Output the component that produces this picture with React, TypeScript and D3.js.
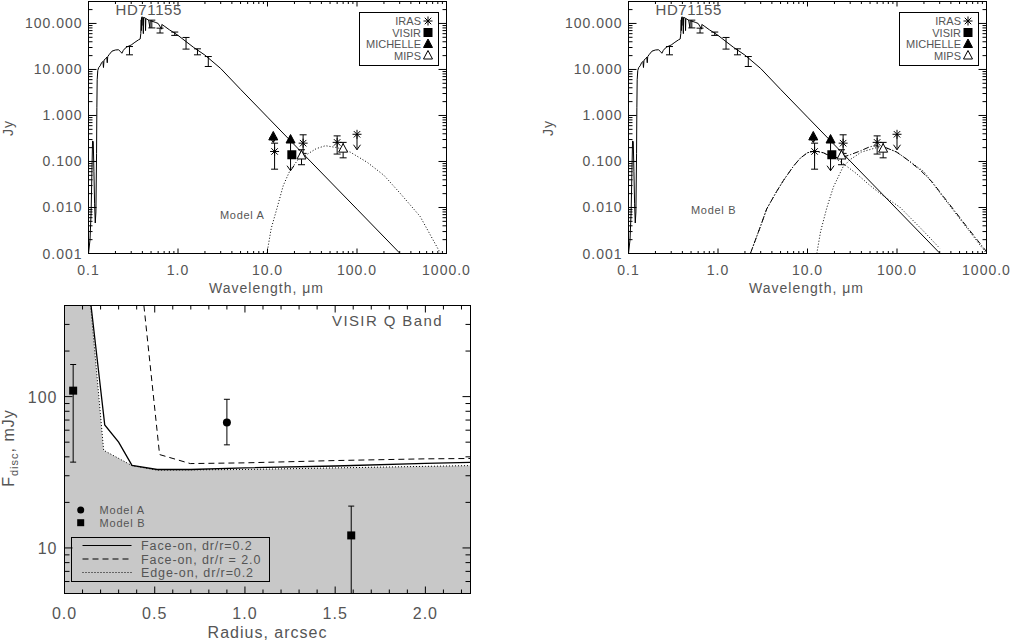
import React from "react";
import * as d3 from "d3";

// ---------- SED: stellar photosphere (wavelength in micron, flux in Jy) ----------
const photoWave = [
  0.1, 0.104, 0.107, 0.109, 0.111, 0.113, 0.115, 0.117, 0.119, 0.121, 0.123, 0.124, 0.125,
  0.127, 0.13, 0.135, 0.14, 0.145, 0.147, 0.149, 0.155, 0.16, 0.162, 0.164, 0.17, 0.183, 0.2,
  0.216, 0.228, 0.236, 0.245, 0.257, 0.27, 0.3, 0.33, 0.362, 0.378, 0.384, 0.388, 0.39, 0.392,
  0.395, 0.398, 0.405, 0.41, 0.412, 0.43, 0.434, 0.437, 0.47, 0.486, 0.49, 0.556, 0.6, 0.656,
  0.66, 0.7, 0.8, 0.9, 1.0, 1.5, 2.0, 3.0, 5.0, 10, 30, 100, 300, 1000,
];
const photoFlux = [
  0.001, 0.002, 0.008, 0.05, 0.28, 0.27, 0.06, 0.012, 0.0046, 0.008, 0.15, 1.5, 6,
  9.5, 11, 12, 14, 15, 11, 16, 17, 18.5, 14, 19, 21, 25, 26.5,
  26.8, 24.5, 22.5, 26, 29, 31, 34, 39, 44, 46, 60, 120, 70, 135,
  90, 140, 135, 60, 135, 132, 70, 128, 118, 80, 115, 106, 100, 75,
  95, 88, 73, 63, 55, 30, 20.5, 10.5, 3.7, 0.92, 0.102, 0.0092, 0.00102, 0.000092,
];

// Model A: single cold dust belt
const modelAWave = [9.85, 11, 12.7, 15, 17.9, 22, 27.5, 35, 44.4, 60, 84, 130, 200, 304, 507, 815, 1000];
const modelAFlux = [0.001, 0.0035, 0.0093, 0.03, 0.065, 0.11, 0.142, 0.19, 0.22, 0.2, 0.16, 0.096, 0.05, 0.0203, 0.0064, 0.0012, 0.0006];

// Model B: warm + cold belts and their sum
const modelBWarmWave = [2.3, 3, 3.5, 4.5, 5.4, 7, 8.3, 10, 12, 15, 20, 25, 35, 50, 70, 108, 200, 300];
const modelBWarmFlux = [0.001, 0.004, 0.0093, 0.022, 0.039, 0.08, 0.118, 0.155, 0.168, 0.155, 0.12, 0.09, 0.055, 0.03, 0.018, 0.0101, 0.003, 0.0013];
const modelBColdWave = [12.7, 14, 16.5, 19.5, 25, 30, 40, 59, 80, 100, 150, 200, 330, 610, 1000];
const modelBColdFlux = [0.001, 0.003, 0.0101, 0.028, 0.077, 0.11, 0.16, 0.2, 0.19, 0.16, 0.09, 0.06, 0.0165, 0.0035, 0.001];
const modelBSumWave = [2.3, 3, 3.5, 4.5, 5.4, 7, 8.3, 10, 12, 15, 18, 22, 25, 30, 39, 50, 59, 75, 99, 130, 182, 250, 330, 450, 610, 800, 1000];
const modelBSumFlux = [0.001, 0.004, 0.0093, 0.022, 0.039, 0.08, 0.118, 0.155, 0.168, 0.155, 0.13, 0.12, 0.125, 0.14, 0.17, 0.21, 0.22, 0.2, 0.16, 0.11, 0.065, 0.035, 0.0173, 0.008, 0.0037, 0.0019, 0.0011];

// photometry
const optWave = [0.287, 0.51, 0.63, 0.92, 1.23, 1.65, 2.18];
const optLo = [20.8, 80, 62, 55, 27.7, 20.8, 11.6];
const optHi = [31.5, 118, 79, 65, 49.6, 28.1, 19.1];

const irasWave = [12, 25, 60];
const irasFlux = [0.165, 0.25, 0.26];
const irasLo = [0.068, 0.15, 0.145];
const irasHi = [0.25, 0.38, 0.36];
const irasLimWave = [100];
const irasLimFlux = [0.39];
const irasLimTip = [0.18];

const visirWave = [18.7];
const visirFlux = [0.14];

const michelleWave = [11.6, 18.1];
const michelleFlux = [0.35, 0.3];
const michelleTip = [0.26, 0.063];

const mipsWave = [24, 70];
const mipsFlux = [0.135, 0.19];
const mipsLo = [0.085, 0.12];
const mipsHi = [0.18, 0.26];

const legendNames = ["IRAS", "VISIR", "MICHELLE", "MIPS"];

// ---------- VISIR Q band disc flux vs radius ----------
const faceThinR = [0.147, 0.223, 0.3, 0.374, 0.513, 0.7, 1.0, 1.5, 2.0, 2.25];
const faceThinF = [400, 65, 50, 35.1, 33.0, 33.0, 33.8, 34.8, 36.2, 36.8];
const faceWideR = [0.44, 0.527, 0.697, 1.0, 1.5, 2.0, 2.25];
const faceWideF = [400, 41.4, 36.1, 36.5, 37.8, 38.8, 39.0];
const edgeThinR = [0.145, 0.217, 0.374, 0.513, 1.0, 1.5, 2.0, 2.25];
const edgeThinF = [400, 44.2, 35.0, 32.7, 33.0, 33.8, 34.6, 35.0];

const modelAR = [0.9];
const modelAF = [67.5];
const modelALo = [48];
const modelAHi = [96];
const modelBR = [0.048, 1.589];
const modelBF = [109.5, 12.1];
const modelBLo = [36.9, 4];
const modelBHi = [163, 18.9];

const TXT = "#555";
const FONT = "'Liberation Sans', Arial, Helvetica, sans-serif";

function logTicks(lo: number, hi: number) {
  const out: { v: number; major: boolean }[] = [];
  for (let e = Math.floor(Math.log10(lo)); e <= Math.ceil(Math.log10(hi)); e++) {
    for (let k = 1; k < 10; k++) {
      const v = k * Math.pow(10, e);
      if (v >= lo * 0.999 && v <= hi * 1.001) out.push({ v, major: k === 1 });
    }
  }
  return out;
}

const Asterisk = ({ x, y }: { x: number; y: number }) => {
  const r = 4.5;
  const d = r * 0.72;
  return (
    <g stroke="#000">
      <line x1={x} x2={x} y1={y - r} y2={y + r} />
      <line x1={x - r} x2={x + r} y1={y} y2={y} />
      <line x1={x - d} x2={x + d} y1={y - d} y2={y + d} />
      <line x1={x - d} x2={x + d} y1={y + d} y2={y - d} />
    </g>
  );
};

const Tri = ({ x, y, filled }: { x: number; y: number; filled: boolean }) => (
  <path
    d={`M${x},${y - 5}L${x - 4.5},${y + 3.5}L${x + 4.5},${y + 3.5}Z`}
    fill={filled ? "#000" : "#fff"}
    stroke="#000"
  />
);

const Sq = ({ x, y, s = 8 }: { x: number; y: number; s?: number }) => (
  <rect x={x - s / 2} y={y - s / 2} width={s} height={s} fill="#000" />
);

const ErrBar = ({ x, y0, y1, cap = 3.5 }: { x: number; y0: number; y1: number; cap?: number }) => (
  <path d={`M${x},${y0}V${y1}M${x - cap},${y0}H${x + cap}M${x - cap},${y1}H${x + cap}`} stroke="#000" fill="none" />
);

const Arrow = ({ x, y0, y1 }: { x: number; y0: number; y1: number }) => (
  <path d={`M${x},${y0}V${y1}M${x - 3.5},${y1 - 5}L${x},${y1}L${x + 3.5},${y1 - 5}`} stroke="#000" fill="none" />
);

function SedPanel({ left, model, labelX, labelY }: { left: number; model: "A" | "B"; labelX: number; labelY: number }) {
  const x = d3.scaleLog().domain([0.1, 1000]).range([left, left + 358]);
  const y = d3.scaleLog().domain([0.001, 300]).range([253.5, 1.5]);
  const [x0, x1] = x.range();
  const [y0, y1] = y.range();
  const path = (ws: number[], fs: number[]) =>
    d3.line<number>().x((w) => x(w)).y((_, i) => y(fs[i]))(ws) || "";
  const clip = `clip-sed-${model}`;
  const xt = logTicks(0.1, 1000);
  const yt = logTicks(0.001, 300);
  const xLen = (m: boolean) => (m ? 5 : 2.5);
  const yLen = (m: boolean) => (m ? 8 : 4);
  const legX = left + 271;
  const rows = [21, 32.5, 44, 55.5];
  return (
    <g>
      <clipPath id={clip}>
        <rect x={x0} y={y1} width={x1 - x0} height={y0 - y1} />
      </clipPath>
      <g clipPath={`url(#${clip})`} fill="none" stroke="#000" strokeWidth={1}>
        <path d={path(photoWave, photoFlux)} />
        {model === "A" ? (
          <path d={path(modelAWave, modelAFlux)} strokeDasharray="1,2" />
        ) : (
          <>
            <path d={path(modelBSumWave, modelBSumFlux)} strokeDasharray="6,2,1,2" />
            <path d={path(modelBWarmWave, modelBWarmFlux)} strokeDasharray="1,2" />
            <path d={path(modelBColdWave, modelBColdFlux)} strokeDasharray="1,2" />
          </>
        )}
      </g>
      {/* photometry */}
      {optWave.map((w, i) => (
        <ErrBar key={"o" + i} x={x(w)} y0={y(optLo[i])} y1={y(optHi[i])} />
      ))}
      {irasWave.map((w, i) => (
        <g key={"i" + i}>
          <ErrBar x={x(w)} y0={y(irasLo[i])} y1={y(irasHi[i])} />
          <Asterisk x={x(w)} y={y(irasFlux[i])} />
        </g>
      ))}
      {irasLimWave.map((w, i) => (
        <g key={"il" + i}>
          <Arrow x={x(w)} y0={y(irasLimFlux[i])} y1={y(irasLimTip[i])} />
          <Asterisk x={x(w)} y={y(irasLimFlux[i])} />
        </g>
      ))}
      {michelleWave.map((w, i) => (
        <g key={"m" + i}>
          <Arrow x={x(w)} y0={y(michelleFlux[i])} y1={y(michelleTip[i])} />
          <Tri x={x(w)} y={y(michelleFlux[i])} filled />
        </g>
      ))}
      {mipsWave.map((w, i) => (
        <g key={"p" + i}>
          <ErrBar x={x(w)} y0={y(mipsLo[i])} y1={y(mipsHi[i])} />
          <Tri x={x(w)} y={y(mipsFlux[i])} filled={false} />
        </g>
      ))}
      {visirWave.map((w, i) => (
        <Sq key={"v" + i} x={x(w)} y={y(visirFlux[i])} s={9} />
      ))}
      {/* frame and ticks */}
      <rect x={x0} y={y1} width={x1 - x0} height={y0 - y1} fill="none" stroke="#000" />
      <g stroke="#000">
        {xt.map((t, i) => (
          <g key={"xt" + i}>
            <line x1={x(t.v)} x2={x(t.v)} y1={y0} y2={y0 - xLen(t.major)} />
            <line x1={x(t.v)} x2={x(t.v)} y1={y1} y2={y1 + xLen(t.major)} />
          </g>
        ))}
        {yt.map((t, i) => (
          <g key={"yt" + i}>
            <line x1={x0} x2={x0 + yLen(t.major)} y1={y(t.v)} y2={y(t.v)} />
            <line x1={x1} x2={x1 - yLen(t.major)} y1={y(t.v)} y2={y(t.v)} />
          </g>
        ))}
      </g>
      <g fill={TXT} fontFamily={FONT} fontSize={14} letterSpacing={1}>
        {xt.filter((t) => t.major).map((t, i) => (
          <text key={"xl" + i} x={x(t.v)} y={275} textAnchor="middle">
            {d3.format(".1f")(t.v)}
          </text>
        ))}
        {yt.filter((t) => t.major).map((t, i) => (
          <text key={"yl" + i} x={x0 - 6} y={y(t.v) + 5} textAnchor="end">
            {d3.format(".3f")(t.v)}
          </text>
        ))}
        <text x={(x0 + x1) / 2 - 1} y={293} textAnchor="middle">
          Wavelength, μm
        </text>
        <text transform={`translate(${left - 76},128) rotate(-90)`} textAnchor="middle">
          Jy
        </text>
        <text x={left + 27} y={15} fontSize={15} letterSpacing={0.6}>
          HD71155
        </text>
        <text x={labelX} y={labelY} fontSize={11} letterSpacing={0.7}>
          Model {model}
        </text>
      </g>
      {/* legend */}
      <rect x={legX} y={12.5} width={79} height={53} fill="#fff" stroke="#000" />
      <g fill={TXT} fontFamily={FONT} fontSize={11} textAnchor="end">
        {legendNames.map((n, i) => (
          <text key={n} x={legX + 61.5} y={rows[i] + 4}>
            {n}
          </text>
        ))}
      </g>
      <Asterisk x={legX + 68.5} y={rows[0]} />
      <Sq x={legX + 68.5} y={rows[1]} s={9} />
      <Tri x={legX + 68.5} y={rows[2]} filled />
      <Tri x={legX + 68.5} y={rows[3]} filled={false} />
    </g>
  );
}

function DiscPanel() {
  const x = d3.scaleLinear().domain([0, 2.25]).range([64.5, 470.5]);
  const y = d3.scaleLog().domain([5, 400]).range([593.5, 305.5]);
  const [x0, x1] = x.range();
  const [y0, y1] = y.range();
  const path = (rs: number[], fs: number[]) =>
    d3.line<number>().x((r) => x(r)).y((_, i) => y(fs[i]))(rs) || "";
  const fillPts: [number, number][] = [
    [x0, y1],
    ...edgeThinR.map((r, i) => [x(r), y(edgeThinF[i])] as [number, number]),
    [x1, y0],
    [x0, y0],
  ];
  const xt = d3.range(0, 2.2501, 0.1).map((v) => ({ v, major: Math.abs(v / 0.5 - Math.round(v / 0.5)) < 1e-6 }));
  const yt = logTicks(5, 400);
  const legRows = [545.5, 559, 572.5];
  const legStyles = ["none", "6,4", "1,2"];
  const legText = ["Face-on, dr/r=0.2", "Face-on, dr/r = 2.0", "Edge-on, dr/r=0.2"];
  return (
    <g>
      <clipPath id="clip-disc">
        <rect x={x0} y={y1} width={x1 - x0} height={y0 - y1} />
      </clipPath>
      <path d={`M${fillPts.map((p) => p.join(",")).join("L")}Z`} fill="#c8c8c8" />
      <g clipPath="url(#clip-disc)" fill="none" stroke="#000">
        <path d={path(faceThinR, faceThinF)} strokeWidth={1.3} />
        <path d={path(faceWideR, faceWideF)} strokeDasharray="6,4" />
        <path d={path(edgeThinR, edgeThinF)} strokeDasharray="1,2" />
      </g>
      {modelBR.map((r, i) => (
        <g key={"b" + i}>
          <ErrBar x={x(r)} y0={Math.min(y(modelBLo[i]), y0)} y1={y(modelBHi[i])} cap={3} />
          <Sq x={x(r)} y={y(modelBF[i])} s={8} />
        </g>
      ))}
      {modelAR.map((r, i) => (
        <g key={"a" + i}>
          <ErrBar x={x(r)} y0={y(modelALo[i])} y1={y(modelAHi[i])} cap={3} />
          <circle cx={x(r)} cy={y(modelAF[i])} r={4} fill="#000" />
        </g>
      ))}
      <rect x={x0} y={y1} width={x1 - x0} height={y0 - y1} fill="none" stroke="#000" />
      <g stroke="#000">
        {xt.map((t, i) => (
          <g key={"xt" + i}>
            <line x1={x(t.v)} x2={x(t.v)} y1={y0} y2={y0 - (t.major ? 7 : 4)} />
            <line x1={x(t.v)} x2={x(t.v)} y1={y1} y2={y1 + (t.major ? 7 : 4)} />
          </g>
        ))}
        {yt.map((t, i) => (
          <g key={"yt" + i}>
            <line x1={x0} x2={x0 + (t.major ? 8 : 5)} y1={y(t.v)} y2={y(t.v)} />
            <line x1={x1} x2={x1 - (t.major ? 8 : 5)} y1={y(t.v)} y2={y(t.v)} />
          </g>
        ))}
      </g>
      <g fill={TXT} fontFamily={FONT} fontSize={16} letterSpacing={1}>
        {xt.filter((t) => t.major).map((t, i) => (
          <text key={"xl" + i} x={x(t.v)} y={619} textAnchor="middle">
            {d3.format(".1f")(t.v)}
          </text>
        ))}
        {yt.filter((t) => t.major).map((t, i) => (
          <text key={"yl" + i} x={x0 - 7} y={y(t.v) + 6} textAnchor="end">
            {t.v}
          </text>
        ))}
        <text x={(x0 + x1) / 2} y={638} textAnchor="middle">
          Radius, arcsec
        </text>
        <text transform="translate(14,448) rotate(-90)" textAnchor="middle">
          F
          <tspan dy={4} fontSize={11}>
            disc
          </tspan>
          <tspan dy={-4}>, mJy</tspan>
        </text>
        <text x={443} y={326} textAnchor="end" fontSize={15} letterSpacing={1.4}>
          VISIR Q Band
        </text>
      </g>
      {/* model symbols legend */}
      <circle cx={80.7} cy={510} r={3.5} fill="#000" />
      <Sq x={80.7} y={522.7} s={7} />
      <g fill={TXT} fontFamily={FONT} fontSize={11} letterSpacing={0.8}>
        <text x={99.5} y={514}>Model A</text>
        <text x={99.5} y={527}>Model B</text>
      </g>
      {/* line styles legend */}
      <rect x={71.5} y={537.5} width={198} height={44} fill="none" stroke="#000" />
      {legRows.map((ry, i) => (
        <line key={"ll" + i} x1={82.5} x2={131.5} y1={ry} y2={ry} stroke="#000" strokeDasharray={legStyles[i]} />
      ))}
      <g fill={TXT} fontFamily={FONT} fontSize={12.5} letterSpacing={0.9}>
        {legText.map((t, i) => (
          <text key={t} x={141} y={legRows[i] + 4.5}>
            {t}
          </text>
        ))}
      </g>
    </g>
  );
}

export default function App() {
  return (
    <svg
      width={1011}
      height={643}
      style={{ position: "absolute", left: 0, top: 0, background: "#fff" }}
    >
      <SedPanel left={88.5} model="A" labelX={220} labelY={219} />
      <SedPanel left={628.5} model="B" labelX={691} labelY={214} />
      <DiscPanel />
    </svg>
  );
}
